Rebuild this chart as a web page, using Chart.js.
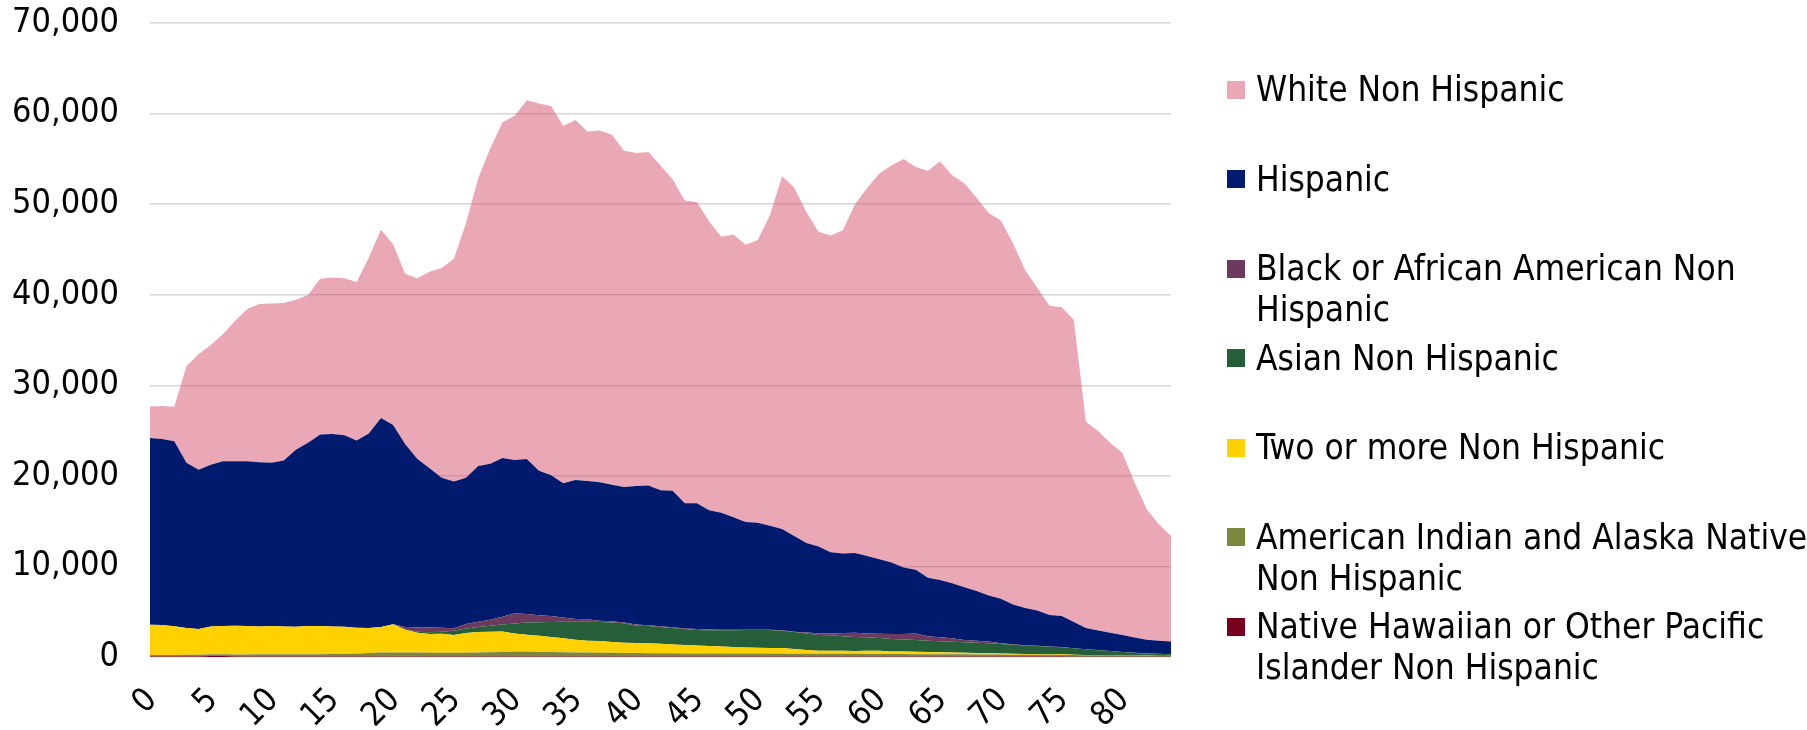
<!DOCTYPE html>
<html>
<head>
<meta charset="utf-8">
<script src="https://cdn.jsdelivr.net/npm/chart.js@4.4.1/dist/chart.umd.min.js"></script>
<style>
    html, body { margin: 0; padding: 0; background: #fff; }
    #wrap { position: relative; width: 1807px; height: 730px; overflow: hidden; }
    #legend {
        position: absolute; left: 1227px; top: 69px;
        font-family: 'DejaVu Sans Condensed', 'Liberation Sans', sans-serif;
        font-size: 35px; color: #000;
    }
    .lg-row { display: flex; align-items: flex-start; height: 89.5px; }
    .lg-box { width: 18px; height: 18px; margin-top: 11.5px; margin-right: 11px; flex: none; }
    .lg-text { line-height: 41px; white-space: pre; }
</style>
</head>
<body>
<div id="wrap">
    <canvas id="raceByAge"></canvas>
    <div id="legend"></div>
</div>
<script>
// Bevolking naar leeftijd (0-84), gestapeld per etnische groep.

const AGES = [
    0, 1, 2, 3, 4, 5, 6, 7, 8, 9, 10, 11, 12, 13, 14, 15, 16, 17, 18, 19,
    20, 21, 22, 23, 24, 25, 26, 27, 28, 29, 30, 31, 32, 33, 34, 35, 36, 37, 38, 39,
    40, 41, 42, 43, 44, 45, 46, 47, 48, 49, 50, 51, 52, 53, 54, 55, 56, 57, 58, 59,
    60, 61, 62, 63, 64, 65, 66, 67, 68, 69, 70, 71, 72, 73, 74, 75, 76, 77, 78, 79,
    80, 81, 82, 83, 84
];
const X_TICK_LABELS = [0, 5, 10, 15, 20, 25, 30, 35, 40, 45, 50, 55, 60, 65, 70, 75, 80];
const Y_MAX = 70000;
const Y_STEP = 10000;

// onderste laag eerst
const NATIVE_HAWAIIAN = [
    60, 60, 60, 60, 60, 100, 100, 60, 60, 60,
    60, 60, 60, 60, 60, 60, 60, 60, 60, 60,
    60, 60, 60, 60, 60, 60, 60, 60, 60, 60,
    60, 60, 60, 60, 60, 60, 60, 60, 60, 60,
    60, 60, 60, 60, 60, 60, 60, 60, 60, 60,
    60, 60, 60, 60, 60, 60, 60, 60, 60, 60,
    60, 50, 50, 50, 50, 50, 50, 50, 50, 50,
    50, 50, 50, 50, 50, 50, 40, 40, 40, 40,
    40, 40, 40, 40, 40
];
const AMERICAN_INDIAN = [
    150, 160, 170, 180, 190, 200, 210, 220, 220, 230,
    240, 240, 230, 240, 250, 260, 270, 300, 380, 430,
    440, 440, 430, 420, 420, 410, 420, 440, 470, 500,
    520, 510, 500, 490, 470, 450, 430, 420, 400, 380,
    370, 360, 350, 350, 340, 340, 330, 330, 320, 320,
    320, 320, 310, 310, 300, 300, 300, 290, 290, 280,
    280, 270, 270, 260, 260, 250, 250, 240, 230, 230,
    220, 210, 200, 200, 190, 180, 170, 160, 150, 140,
    130, 120, 110, 100, 100
];
const TWO_OR_MORE = [
    3340, 3300, 3170, 2960, 2850, 3080, 3120, 3170, 3140, 3090,
    3120, 3080, 3060, 3130, 3110, 3060, 3000, 2870, 2760, 2810,
    3120, 2500, 2190, 2060, 2080, 1960, 2170, 2250, 2270, 2260,
    2020, 1880, 1790, 1650, 1530, 1390, 1310, 1280, 1190, 1120,
    1110, 1100, 1040, 970, 920, 870, 820, 760, 720, 680,
    640, 620, 610, 510, 400, 340, 320, 330, 320, 340,
    340, 300, 280, 280, 250, 220, 200, 170, 150, 130,
    110, 100, 90, 80, 70, 60, 40, 20, 5, 5,
    5, 5, 5, 5, 5
];
const ASIAN = [
    0, 0, 0, 0, 0, 0, 0, 0, 0, 0,
    0, 0, 0, 0, 0, 0, 0, 0, 0, 0,
    0, 50, 100, 180, 240, 470, 500, 550, 650, 780,
    1100, 1350, 1500, 1660, 1820, 2000, 2080, 2100, 2150, 2160,
    1910, 1900, 1850, 1820, 1780, 1710, 1750, 1790, 1850, 1910,
    1950, 1970, 1920, 1870, 1840, 1730, 1720, 1620, 1530, 1490,
    1420, 1380, 1320, 1290, 1240, 1210, 1190, 1160, 1130, 1100,
    1050, 990, 920, 880, 810, 780, 710, 630, 555, 465,
    375, 285, 245, 205, 155
];
const BLACK = [
    0, 0, 0, 0, 0, 0, 0, 0, 0, 0,
    0, 0, 0, 0, 0, 0, 0, 0, 0, 0,
    0, 250, 500, 540, 440, 270, 490, 600, 650, 850,
    1120, 950, 750, 670, 470, 300, 280, 150, 150, 80,
    150, 80, 100, 80, 50, 110, 90, 60, 50, 50,
    50, 50, 50, 50, 100, 180, 200, 350, 490, 430,
    460, 540, 620, 720, 500, 440, 390, 260, 240, 190,
    80, 50, 40, 30, 30, 30, 10, 10, 10, 10,
    10, 10, 10, 10, 10
];
const HISPANIC = [
    20620, 20550, 20410, 18250, 17570, 17860, 18170, 18150, 18180, 18120,
    18030, 18320, 19540, 20230, 21160, 21250, 21150, 20680, 21490, 23080,
    21990, 20200, 18580, 17570, 16560, 16220, 16160, 17190, 17240, 17510,
    16930, 17110, 15970, 15530, 14830, 15340, 15280, 15280, 15080, 14970,
    15270, 15430, 15010, 15080, 13820, 13880, 13150, 12940, 12430, 11890,
    11790, 11480, 11190, 10570, 9900, 9580, 8970, 8770, 8780, 8560,
    8240, 7900, 7330, 7020, 6440, 6320, 6050, 5830, 5500, 5090,
    4920, 4410, 4100, 3900, 3480, 3430, 2890, 2330, 2170, 2010,
    1860, 1700, 1490, 1440, 1390
];
const WHITE = [
    3500, 3650, 3810, 10690, 12760, 13220, 14040, 15530, 16820, 17480,
    17590, 17390, 16560, 16300, 17180, 17280, 17330, 17490, 19390, 20780,
    19960, 18780, 19950, 21700, 23140, 24580, 28130, 31780, 34820, 37080,
    38010, 39600, 40530, 40780, 39450, 39760, 38570, 38830, 38620, 37130,
    36780, 36820, 35850, 34360, 33430, 33280, 31890, 30450, 31220, 30610,
    31220, 34260, 38940, 38470, 36520, 34770, 34970, 35690, 38520, 40630,
    42580, 43820, 45110, 44480, 44950, 46230, 45050, 44590, 43410, 42220,
    41760, 39860, 37290, 35640, 34150, 34090, 33380, 22780, 22010, 20990,
    20110, 17130, 14400, 12860, 11670
];

const SERIES_NAMES = [
    'Native Hawaiian or Other Pacific Islander Non Hispanic',
    'American Indian and Alaska Native Non Hispanic',
    'Two or more Non Hispanic',
    'Asian Non Hispanic',
    'Black or African American Non Hispanic',
    'Hispanic',
    'White Non Hispanic'
];
// legenda zoals in het origineel afgebroken
const LEGEND_TEXT = [
    'Native Hawaiian or Other Pacific\nIslander Non Hispanic',
    'American Indian and Alaska Native\nNon Hispanic',
    'Two or more Non Hispanic',
    'Asian Non Hispanic',
    'Black or African American Non\nHispanic',
    'Hispanic',
    'White Non Hispanic'
];
const SERIES_DATA = [NATIVE_HAWAIIAN, AMERICAN_INDIAN, TWO_OR_MORE, ASIAN, BLACK, HISPANIC, WHITE];
const FILL_COLORS = ['#78001e', '#7b873d', '#ffd100', '#255e39', '#6b3a5e', '#001a6e', 'rgba(213, 79, 107, 0.5)'];
const KEY_COLORS = ['#78001e', '#7b873d', '#ffd100', '#255e39', '#6b3a5e', '#001a6e', '#eaa7b5'];

const FONT = "'DejaVu Sans Condensed', 'Liberation Sans', sans-serif";

function buildLegend() {
    const el = document.getElementById('legend');
    let html = '';
    for (let i = SERIES_NAMES.length - 1; i >= 0; i--) {
        html += `
            <div class="lg-row">
                <span class="lg-box" style="background:${KEY_COLORS[i]}"></span>
                <span class="lg-text">${LEGEND_TEXT[i]}</span>
            </div>`;
    }
    el.innerHTML = html;
}

function buildChart() {
    const ctx = document.getElementById('raceByAge').getContext('2d');
    new Chart(ctx, {
        type: 'line',
        data: {
            labels: AGES,
            datasets: SERIES_DATA.map((d, i) => ({
                label: SERIES_NAMES[i],
                data: d,
                backgroundColor: FILL_COLORS[i],
                borderWidth: 0,
                pointRadius: 0,
                tension: 0,
                fill: i === 0 ? 'origin' : '-1'
            }))
        },
        options: {
            responsive: true,
            maintainAspectRatio: false,
            animation: false,
            events: [],
            layout: { padding: { left: 0, right: 636, top: 23, bottom: 0 } },
            plugins: {
                legend: { display: false },
                tooltip: { enabled: false }
            },
            scales: {
                x: {
                    type: 'category',
                    offset: false,
                    grid: { display: false },
                    border: { display: false },
                    afterFit: s => { s.height = 73; s.paddingLeft = 0; s.paddingRight = 0; },
                    ticks: {
                        autoSkip: false,
                        minRotation: 45,
                        maxRotation: 45,
                        padding: 16,
                        labelOffset: 2,
                        color: '#000',
                        font: { family: FONT, size: 33 },
                        callback: (v, i) => X_TICK_LABELS.includes(AGES[i]) ? String(AGES[i]) : null
                    }
                },
                y: {
                    stacked: true,
                    min: 0,
                    max: Y_MAX,
                    border: { display: false },
                    grid: { color: '#d6d6d6', lineWidth: 1.5, drawTicks: false },
                    // labels staan ver van de as; de tick-padding mag de plot niet omlaag duwen
                    afterFit: s => { s.width = 150; s.paddingTop = 0; s.paddingBottom = 0; },
                    ticks: {
                        stepSize: Y_STEP,
                        padding: 31,
                        color: '#000',
                        font: { family: FONT, size: 34 },
                        callback: v => v.toLocaleString('en-US')
                    }
                }
            }
        }
    });
}

buildLegend();
buildChart();
</script>
</body>
</html>
